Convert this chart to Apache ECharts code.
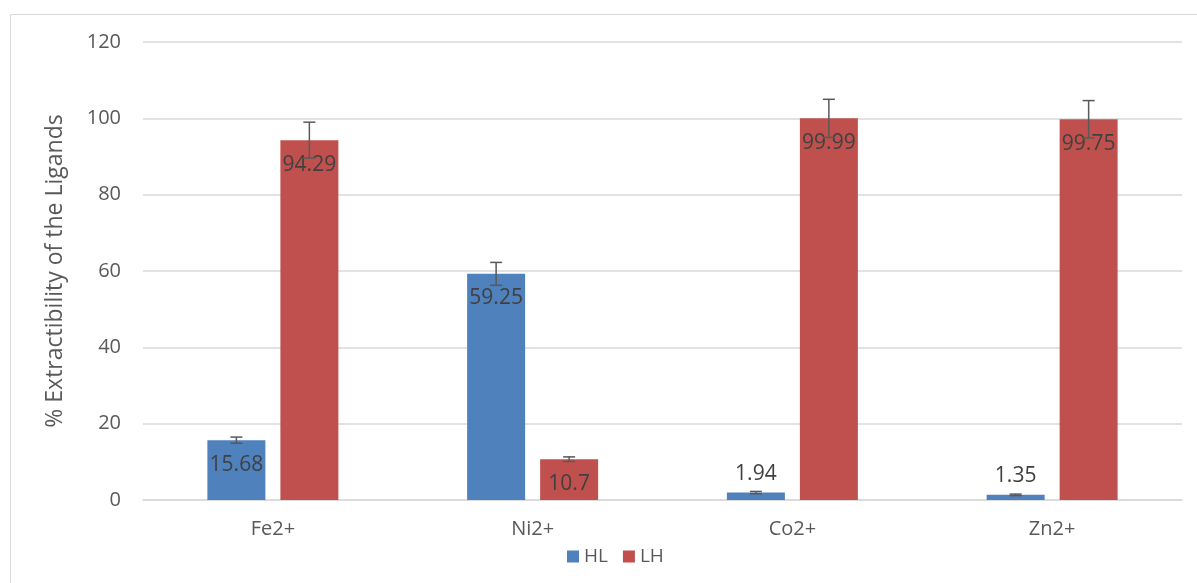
<!DOCTYPE html>
<html>
<head>
<meta charset="utf-8">
<script src="https://cdn.jsdelivr.net/npm/echarts@6/dist/echarts.min.js"></script>
<style>
  html, body { margin: 0; padding: 0; background: #fff; }
  #chart { width: 1197px; height: 583px; }
</style>
</head>
<body>
<div id="chart"></div>
<script>
// data
var categories = ['Fe2+', 'Ni2+', 'Co2+', 'Zn2+'];
var hlValues = [15.68, 59.25, 1.94, 1.35];
var lhValues = [94.29, 10.7, 99.99, 99.75];
var hlErrors = [0.8, 3.0, 0.3, 0.2];
var lhErrors = [4.7, 0.6, 5.0, 4.9];
var yTicks = [0, 20, 40, 60, 80, 100, 120];

var textFont = 'Open Sans';
var barW = 58;
var barGapPx = 15;
var offset = (barW + barGapPx) / 2;

// labels sit inside the top of the bar, small bars get them above
function barData(values) {
  return values.map(function (v) {
    return {
      value: v,
      label: v < 5 ? { position: 'top', distance: 8 } : { position: 'insideTop', distance: 14 }
    };
  });
}

// error bars as a custom series
function errorSeries(values, errors, dx) {
  return {
    type: 'custom',
    z: 10,
    silent: true,
    data: values.map(function (v, i) { return [i, v, errors[i]]; }),
    renderItem: function (params, api) {
      var i = api.value(0), v = api.value(1), e = api.value(2);
      var top = api.coord([i, v + e]);
      var bot = api.coord([i, v - e]);
      var x = top[0] + dx;
      var cap = 6;
      var style = { stroke: '#595959', lineWidth: 1.5 };
      return {
        type: 'group',
        children: [
          { type: 'line', shape: { x1: x, y1: top[1], x2: x, y2: bot[1] }, style: style },
          { type: 'line', shape: { x1: x - cap, y1: top[1], x2: x + cap, y2: top[1] }, style: style },
          { type: 'line', shape: { x1: x - cap, y1: bot[1], x2: x + cap, y2: bot[1] }, style: style }
        ]
      };
    }
  };
}

var myChart = echarts.init(document.getElementById('chart'));
var option = {
  animation: false,
  textStyle: { fontFamily: textFont },
  graphic: [{
    type: 'rect',
    z: -10,
    shape: { x: 10.5, y: 14.5, width: 1200, height: 600 },
    style: { fill: 'none', stroke: '#d9d9d9', lineWidth: 1 }
  }],
  grid: { left: 143, right: 15, top: 42, bottom: 83 },
  legend: {
    data: ['HL', 'LH'],
    left: 562,
    top: 542,
    itemWidth: 12,
    itemHeight: 12,
    itemGap: 15,
    icon: 'rect',
    textStyle: { color: '#595959', fontSize: 19, fontFamily: textFont }
  },
  xAxis: {
    type: 'category',
    data: categories,
    axisTick: { show: false },
    axisLine: { lineStyle: { color: '#d9d9d9', width: 1.5 } },
    axisLabel: { color: '#595959', fontSize: 20, margin: 19, fontFamily: textFont }
  },
  yAxis: {
    type: 'value',
    min: yTicks[0],
    max: yTicks[yTicks.length - 1],
    interval: yTicks[1] - yTicks[0],
    name: '% Extractibility of the Ligands',
    nameLocation: 'middle',
    nameGap: 76,
    nameTextStyle: { color: '#595959', fontSize: 23, fontFamily: textFont },
    axisLine: { show: false },
    axisTick: { show: false },
    axisLabel: { color: '#595959', fontSize: 20, margin: 22, fontFamily: textFont },
    splitLine: { lineStyle: { color: '#d9d9d9', width: 1.5 } }
  },
  series: [
    {
      name: 'HL',
      type: 'bar',
      data: barData(hlValues),
      barWidth: barW,
      barGap: (barGapPx / barW * 100) + '%',
      itemStyle: { color: '#4F81BD' },
      label: { show: true, color: '#404040', fontSize: 21, fontFamily: textFont }
    },
    {
      name: 'LH',
      type: 'bar',
      data: barData(lhValues),
      barWidth: barW,
      itemStyle: { color: '#C0504D' },
      label: { show: true, color: '#404040', fontSize: 21, fontFamily: textFont }
    },
    errorSeries(hlValues, hlErrors, -offset),
    errorSeries(lhValues, lhErrors, offset)
  ]
};
option && myChart.setOption(option);
</script>
</body>
</html>
